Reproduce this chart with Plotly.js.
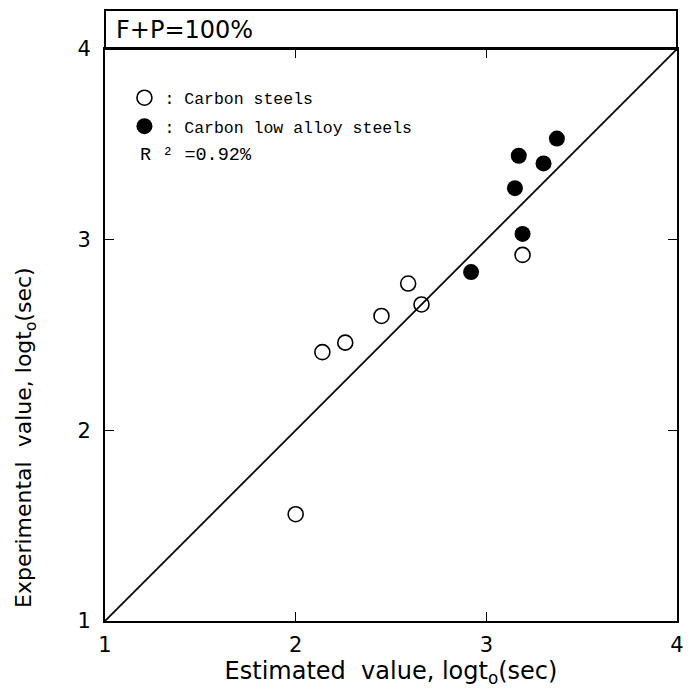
<!DOCTYPE html>
<html>
<head>
<meta charset="utf-8">
<script src="https://cdn.plot.ly/plotly-3.0.1.min.js"></script>
<style>html,body{margin:0;padding:0;background:#fff;}#chart{width:696px;height:695px;}</style>
</head>
<body>
<div id="chart"></div>
<script>
// Carbon steels (open circles)
const carbonEstimated = [2.00, 2.14, 2.26, 2.45, 2.59, 2.66, 3.19];
const carbonExperimental = [1.56, 2.41, 2.46, 2.60, 2.77, 2.66, 2.92];
// Carbon low alloy steels (filled circles)
const alloyEstimated = [2.92, 3.19, 3.15, 3.17, 3.30, 3.37];
const alloyExperimental = [2.83, 3.03, 3.27, 3.44, 3.40, 3.53];
// 1:1 line
const identityLine = [1, 4];
const tickValues = [1, 2, 3, 4];
const tickLabels = ['1', '2', '3', '4'];

const traces = [
  {
    x: identityLine, y: identityLine, mode: 'lines', type: 'scatter',
    line: {color: '#000', width: 1.8}, showlegend: false, hoverinfo: 'skip'
  },
  {
    x: carbonEstimated, y: carbonExperimental, mode: 'markers', type: 'scatter',
    name: ': Carbon steels', legendgroup: 'a',
    marker: {symbol: 'circle-open', size: 15, color: '#000', line: {width: 1.6, color: '#000'}}
  },
  {
    x: alloyEstimated, y: alloyExperimental, mode: 'markers', type: 'scatter',
    name: ': Carbon low alloy steels', legendgroup: 'b',
    marker: {symbol: 'circle', size: 16, color: '#000'}
  }
];

const axisCommon = {
  range: [1, 4], tickmode: 'array', tickvals: tickValues, ticktext: tickLabels,
  ticks: 'inside', ticklen: 9, tickwidth: 1.5, tickcolor: '#000',
  showline: true, linecolor: '#000', linewidth: 2, mirror: 'ticks',
  showgrid: false, zeroline: false,
  tickfont: {family: 'DejaVu Sans', size: 21, color: '#000'}
};

const layout = {
  width: 696, height: 695,
  margin: {l: 105, r: 19, t: 49, b: 74},
  paper_bgcolor: '#fff', plot_bgcolor: '#fff',
  showlegend: true,
  legend: {
    x: 0.034, y: 0.945, xanchor: 'left', yanchor: 'top',
    font: {family: 'Liberation Mono', size: 16.5, color: '#000'},
    bgcolor: 'rgba(0,0,0,0)', borderwidth: 0,
    traceorder: 'grouped', tracegroupgap: 4
  },
  xaxis: Object.assign({}, axisCommon, {
    ticklabelstandoff: 4,
    title: {
      text: 'Estimated  value, logt<sub>o</sub>(sec)',
      font: {family: 'DejaVu Sans', size: 24, color: '#000'},
      standoff: 5
    }
  }),
  yaxis: Object.assign({}, axisCommon, {
    ticklabelstandoff: 8
  }),
  shapes: [
    {type: 'rect', xref: 'paper', yref: 'paper', x0: 0, x1: 1, y0: 1, y1: 1 + 39 / 572,
     line: {color: '#000', width: 2}, fillcolor: 'rgba(0,0,0,0)'}
  ],
  annotations: [
    {text: 'F+P=100%', xref: 'paper', yref: 'paper', x: 0.016, y: 1 + 19 / 572,
     xanchor: 'left', yanchor: 'middle', showarrow: false,
     font: {family: 'DejaVu Sans', size: 24, color: '#000'}},
    {text: 'R ² =0.92%', xref: 'paper', yref: 'paper', x: 0.058, y: (621 - 155) / 572,
     xanchor: 'left', yanchor: 'middle', showarrow: false,
     font: {family: 'Liberation Mono', size: 18.5, color: '#000'}},
    {text: 'Experimental  value, logt<sub>o</sub>(sec)', xref: 'paper', yref: 'paper',
     x: (26 - 105) / 572, y: (621 - 438) / 572, xanchor: 'center', yanchor: 'middle',
     textangle: -90, showarrow: false,
     font: {family: 'DejaVu Sans', size: 22, color: '#000'}}
  ]
};

Plotly.newPlot('chart', traces, layout, {displayModeBar: false, staticPlot: true});
</script>
</body>
</html>
